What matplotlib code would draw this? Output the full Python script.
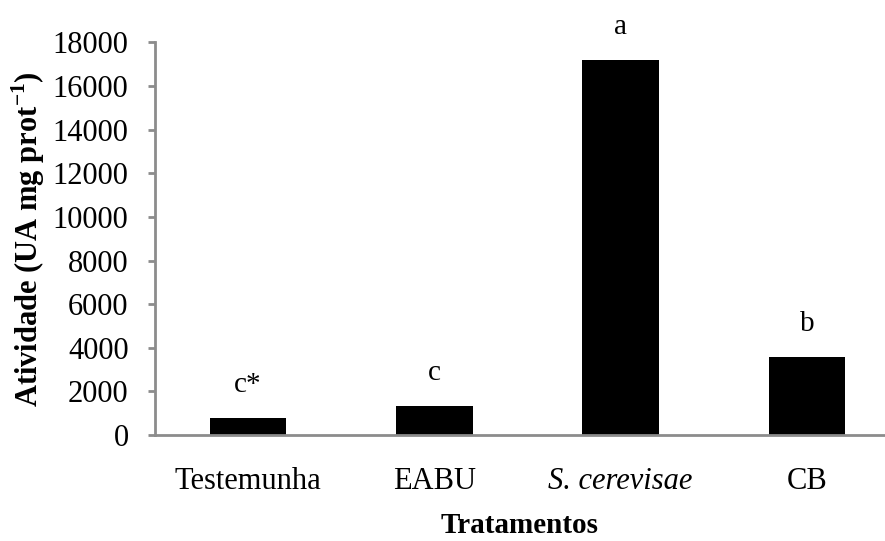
import matplotlib
matplotlib.use("Agg")
import matplotlib.pyplot as plt

# dados
tratamentos = ["Testemunha", "EABU", "S. cerevisae", "CB"]
atividade = [770, 1330, 17200, 3580]
letras = ["c*", "c", "a", "b"]
y_ticks = [0, 2000, 4000, 6000, 8000, 10000, 12000, 14000, 16000, 18000]

plt.rcParams["font.family"] = "Liberation Serif"
plt.rcParams["mathtext.fontset"] = "custom"
plt.rcParams["mathtext.rm"] = "Liberation Serif"
plt.rcParams["mathtext.bf"] = "Liberation Serif:bold"

fig = plt.figure(figsize=(8.85, 5.41), dpi=100)
ax = fig.add_axes([155 / 885, 106 / 541, 730 / 885, 392.5 / 541])

x = range(len(tratamentos))
bars = ax.bar(x, atividade, width=0.41, color="black")

for xi, v, l in zip(x, atividade, letras):
    ax.annotate(l, (xi, v), xytext=(0, 19), textcoords="offset points",
                ha="center", va="baseline", fontsize=21)

ax.set_xlim(-0.5, 3.42)
ax.set_ylim(0, 18000)
ax.set_yticks(y_ticks)
ax.set_yticklabels([str(t) for t in y_ticks])
ax.set_xticks(list(x))
ax.set_xticklabels(tratamentos)
ax.get_xticklabels()[2].set_style("italic")

for s in ["top", "right"]:
    ax.spines[s].set_visible(False)
for s in ["left", "bottom"]:
    ax.spines[s].set_color("#8c8c8c")
    ax.spines[s].set_linewidth(2)

ax.tick_params(axis="y", direction="out", length=5, width=2, color="#8c8c8c",
               labelsize=22, pad=14)
ax.tick_params(axis="x", length=0, labelsize=22, pad=23)

ax.set_ylabel(r"Atividade (UA mg prot$^{\mathbf{-1}}$)", fontsize=22, fontweight="bold")
ax.yaxis.set_label_coords(-0.148, 0.5)
ax.set_xlabel("Tratamentos", fontsize=21, fontweight="bold")
ax.xaxis.set_label_coords(0.5, -0.195)

fig.savefig("out.png", dpi=100)
